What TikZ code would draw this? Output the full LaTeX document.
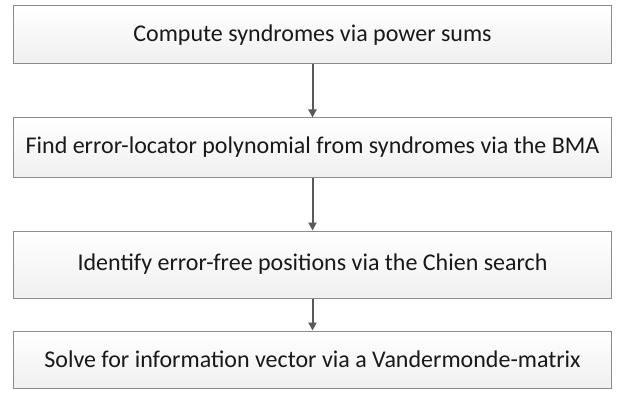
\documentclass[tikz,border=0pt]{standalone}
\usepackage{fontspec}
\setmainfont{Carlito}
\usetikzlibrary{arrows.meta}
\begin{document}
\begin{tikzpicture}[x=1pt,y=-1pt,
  stepbox/.style={draw=black!45, line width=1pt, top color=white, bottom color=gray!12,
    minimum width=598pt, inner sep=0pt, font=\fontsize{24}{28}\selectfont, text=black!90},
  flow/.style={draw=black!65, line width=2pt, -{Triangle[length=8pt,width=8pt]}}]
\useasboundingbox (0,0) rectangle (626,393);
\node[stepbox, minimum height=58pt] (s1) at (312.5,35) {Compute syndromes via power sums};
\node[stepbox, minimum height=59pt] (s2) at (312.5,147.5) {Find error-locator polynomial from syndromes via the BMA};
\node[stepbox, minimum height=67pt] (s3) at (312.5,264.5) {Identify error-free positions via the Chien search};
\node[stepbox, minimum height=57pt] (s4) at (312.5,359.5) {Solve for information vector via a Vandermonde-matrix};
\draw[flow] (s1) -- (s2);
\draw[flow] (s2) -- (s3);
\draw[flow] (s3) -- (s4);
\end{tikzpicture}
\end{document}
